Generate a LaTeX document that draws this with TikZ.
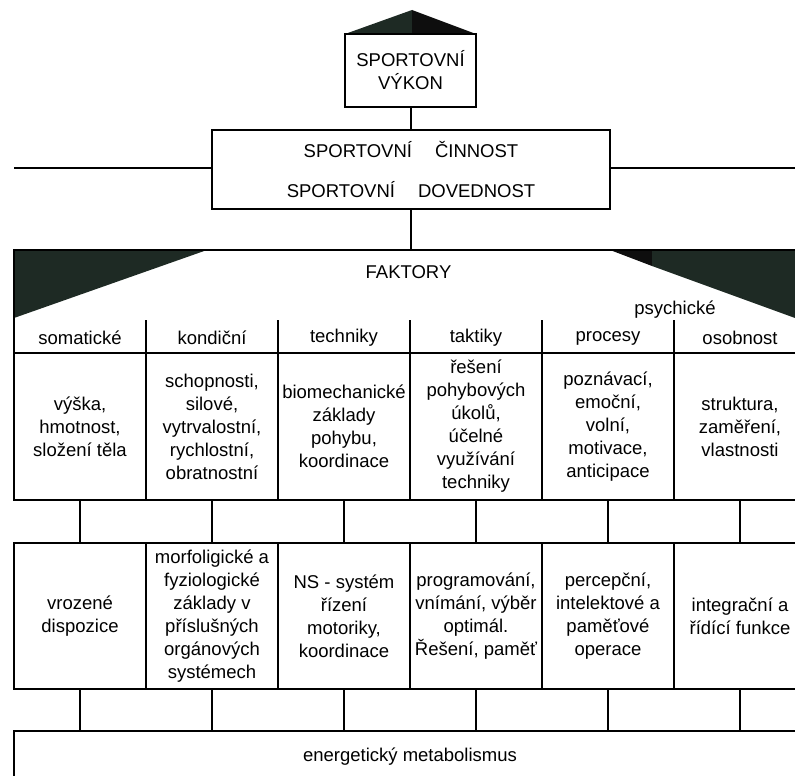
\documentclass[tikz,border=0pt]{standalone}
\usepackage{fontspec}
\setmainfont{Liberation Sans}
\newcommand\dfont{\fontsize{18.5}{23}\selectfont}
\definecolor{darkgrn}{RGB}{30,42,36}
\definecolor{darkblk}{RGB}{14,14,14}
\begin{document}
\begin{tikzpicture}[x=1pt,y=-1pt,
  box/.style={draw, line width=2pt, inner sep=0pt, outer sep=0pt, align=center, font=\dfont},
  lbl/.style={inner sep=0pt, outer sep=0pt, align=center, font=\dfont},
  conn/.style={draw, line width=2pt}]
\useasboundingbox (0,0) rectangle (795,776);
\clip (0,0) rectangle (795,776);
% dark wedges
\coordinate (apex) at (412,10);
\fill[darkgrn] (345,34) -- (apex) -- (412,34) -- cycle;
\fill[darkblk] (412,34) -- (apex) -- (476,34) -- cycle;
\fill[darkgrn] (14,250) -- (207,250) -- (14,318) -- cycle;
\fill[darkblk] (610,250) -- (652,250) -- (652,266) -- cycle;
\fill[darkgrn] (652,250) -- (806,250) -- (806,322) -- (652,266) -- cycle;
% top boxes
\node[box, minimum width=131, minimum height=73] (vykon) at (410.5,70.5) {SPORTOVNÍ\\VÝKON};
\node[box, minimum width=398, minimum height=79] (cinnost) at (411,169.5)
  {SPORTOVNÍ\hspace{23pt}ČINNOST\\[17pt]SPORTOVNÍ\hspace{23pt}DOVEDNOST};
\coordinate (lend) at (14,168);
\coordinate (rend) at (806,168);
\draw[conn] (lend) -- (lend -| cinnost.west);
\draw[conn] (rend -| cinnost.east) -- (rend);
\draw[conn] (vykon.south) -- (vykon.south |- cinnost.north);
% factors frame
\node[draw, line width=2pt, inner sep=0pt, outer sep=0pt, minimum width=792, minimum height=250] (faktory) at (410,375) {};
\draw[conn] (cinnost.south) -- (cinnost.south |- faktory.north);
\node[lbl] (flabel) at (408.5,272) {FAKTORY};
\node[lbl] (psy) at (675,310) {psychické};
% headers
\node[lbl] (h1) at (80,338) {somatické};
\node[lbl] (h2) at (212,338) {kondiční};
\node[lbl] (h3) at (344,338) {techniky};
\node[lbl] (h4) at (476,338) {taktiky};
\node[lbl] (h5) at (608,338) {procesy};
\node[lbl] (h6) at (740,338) {osobnost};
% row 1
\node[box, minimum width=132, minimum height=147] (a1) at (80,426.5) {výška,\\hmotnost,\\složení těla};
\node[box, minimum width=132, minimum height=147] (a2) at (212,426.5) {schopnosti,\\silové,\\vytrvalostní,\\rychlostní,\\obratnostní};
\node[box, minimum width=132, minimum height=147] (a3) at (344,426.5) {biomechanické\\základy\\pohybu,\\koordinace};
\node[box, minimum width=132, minimum height=147] (a4) at (476,426.5) {řešení\\pohybových\\úkolů,\\účelné\\využívání\\techniky};
\node[box, minimum width=132, minimum height=147] (a5) at (608,426.5) {poznávací,\\emoční,\\volní,\\motivace,\\anticipace};
\node[box, minimum width=132, minimum height=147] (a6) at (740,426.5) {struktura,\\zaměření,\\vlastnosti};
\coordinate (hdrtop) at (0,320);
\foreach \i in {1,...,5} {\draw[conn] (a\i.north east) -- (a\i.north east |- hdrtop);}
% row 2
\node[box, minimum width=132, minimum height=146] (b1) at (80,616) {vrozené\\dispozice};
\node[box, minimum width=132, minimum height=146] (b2) at (212,616) {morfoligické a\\fyziologické\\základy v\\příslušných\\orgánových\\systémech};
\node[box, minimum width=132, minimum height=146] (b3) at (344,616) {NS - systém\\řízení\\motoriky,\\koordinace};
\node[box, minimum width=132, minimum height=146] (b4) at (476,616) {programování,\\vnímání, výběr\\optimál.\\Řešení, paměť};
\node[box, minimum width=132, minimum height=146] (b5) at (608,616) {percepční,\\intelektové a\\paměťové\\operace};
\node[box, minimum width=132, minimum height=146] (b6) at (740,616) {integrační a\\řídící funkce};
% bottom
\node[box, minimum width=792, minimum height=52, anchor=north] (energy) at (410,731) {energetický metabolismus};
\foreach \i in {1,...,6} {
  \draw[conn] (a\i.south) -- (b\i.north);
  \draw[conn] (b\i.south) -- (b\i.south |- energy.north);
}
\end{tikzpicture}
\end{document}
